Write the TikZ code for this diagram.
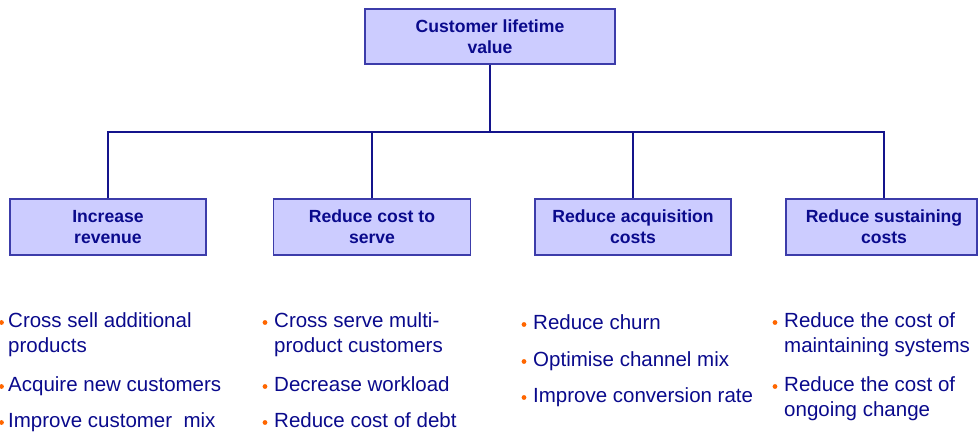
\documentclass[tikz,border=0pt]{standalone}
\usepackage{fontspec}
\setmainfont{Liberation Sans}
\definecolor{navytext}{RGB}{10,10,140}
\definecolor{boxfill}{RGB}{204,204,255}
\definecolor{boxline}{RGB}{60,60,170}
\definecolor{linkline}{RGB}{20,20,140}
\definecolor{bulletc}{RGB}{255,102,0}
\tikzset{
  headbox/.style={draw=boxline, line width=1.2pt, fill=boxfill, text=navytext,
    font=\fontsize{17.6}{21}\selectfont\bfseries, align=center,
    minimum width=196pt, minimum height=56pt, inner sep=0pt},
  itemtext/.style={anchor=base west, inner sep=0pt, text=navytext,
    font=\fontsize{20.5}{25}\selectfont},
  bulletdot/.style={circle, fill=bulletc, inner sep=0pt, minimum size=4.8pt},
  link/.style={draw=linkline, line width=1.3pt},
  mainlink/.style={draw=linkline, line width=2pt}
}
\begin{document}
\begin{tikzpicture}[x=1pt,y=-1pt]
\useasboundingbox (0,0) rectangle (978,435);
% boxes
\node[headbox, minimum width=250pt, minimum height=55pt] (top) at (490,36.5) {Customer lifetime\\value};
\node[headbox] (b1) at (108,227) {Increase\\revenue};
\node[headbox, minimum width=197pt] (b2) at (372,227) {Reduce cost to\\serve};
\node[headbox] (b3) at (633,227) {Reduce acquisition\\costs};
\node[headbox, minimum width=191pt] (b4) at (881.5,227) {\hspace*{5pt}Reduce sustaining\\\hspace*{5pt}costs};
% connectors
\coordinate (bus) at (490,132);
\draw[mainlink] (top.south) -- (bus);
\draw[link] (b1.north) |- (bus);
\draw[link] (b4.north -| 884,0) |- (bus);
\draw[link] (b2.north) |- (bus);
\draw[link] (b3.north) |- (bus);
% column 1
\node[bulletdot] (d11) at (1.5,322.5) {};
\node[itemtext] (t11) at (8,328) {Cross sell additional};
\node[itemtext] (t11b) at (8,353) {products};
\node[bulletdot] (d12) at (1.5,386.5) {};
\node[itemtext] (t12) at (8,392) {Acquire new customers};
\node[bulletdot] (d13) at (1.5,422.5) {};
\node[itemtext] (t13) at (8,428) {Improve customer\ \ mix};
% column 2
\node[bulletdot] (d21) at (265,322.5) {};
\node[itemtext] (t21) at (274,328) {Cross serve multi-};
\node[itemtext] (t21b) at (274,353) {product customers};
\node[bulletdot] (d22) at (265,386.5) {};
\node[itemtext] (t22) at (274,392) {Decrease workload};
\node[bulletdot] (d23) at (265,422.5) {};
\node[itemtext] (t23) at (274,428) {Reduce cost of debt};
% column 3
\node[bulletdot] (d31) at (524,324.5) {};
\node[itemtext] (t31) at (533,330) {Reduce churn};
\node[bulletdot] (d32) at (524,361.5) {};
\node[itemtext] (t32) at (533,367) {Optimise channel mix};
\node[bulletdot] (d33) at (524,397.5) {};
\node[itemtext] (t33) at (533,403) {Improve conversion rate};
% column 4
\node[bulletdot] (d41) at (775,322.5) {};
\node[itemtext] (t41) at (784,328) {Reduce the cost of};
\node[itemtext] (t41b) at (784,353) {maintaining systems};
\node[bulletdot] (d42) at (775,386.5) {};
\node[itemtext] (t42) at (784,392) {Reduce the cost of};
\node[itemtext] (t42b) at (784,417) {ongoing change};
\end{tikzpicture}
\end{document}
